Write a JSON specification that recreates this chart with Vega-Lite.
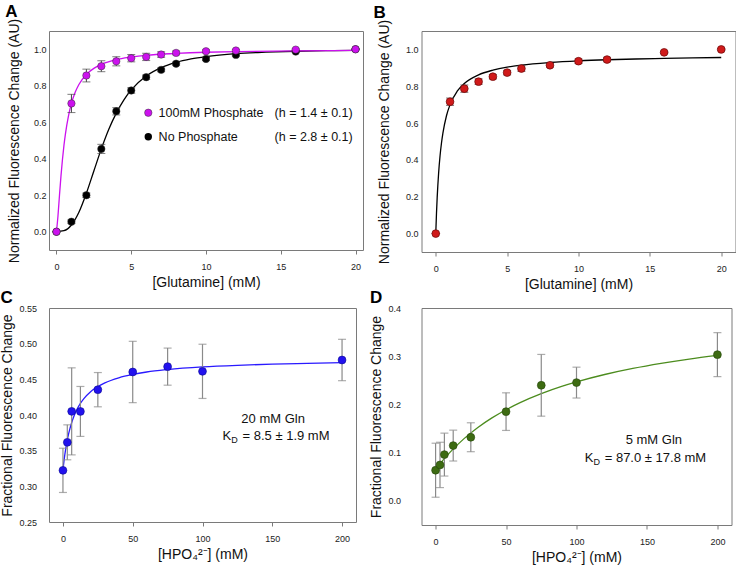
{
  "$schema": "https://vega.github.io/schema/vega-lite/v6.json",
  "padding": {"left": -1, "top": 2, "right": 0, "bottom": 0},
  "columns": 2,
  "bounds": "flush",
  "spacing": {"row": 56, "column": 58.5},
  "datasets": {
    "A_pts": [
      {"series": "No Phosphate", "x": 0, "y": 0, "err": 0},
      {"series": "No Phosphate", "x": 1, "y": 0.055, "err": 0.01},
      {"series": "No Phosphate", "x": 2, "y": 0.2, "err": 0.012},
      {"series": "No Phosphate", "x": 3, "y": 0.454, "err": 0.025},
      {"series": "No Phosphate", "x": 4, "y": 0.66, "err": 0.02},
      {"series": "No Phosphate", "x": 5, "y": 0.774, "err": 0.015},
      {"series": "No Phosphate", "x": 6, "y": 0.847, "err": 0.012},
      {"series": "No Phosphate", "x": 7, "y": 0.887, "err": 0.01},
      {"series": "No Phosphate", "x": 8, "y": 0.921, "err": 0.008},
      {"series": "No Phosphate", "x": 10, "y": 0.947, "err": 0.008},
      {"series": "No Phosphate", "x": 12, "y": 0.969, "err": 0.006},
      {"series": "No Phosphate", "x": 16, "y": 0.987, "err": 0.005},
      {"series": "No Phosphate", "x": 20, "y": 1.0, "err": 0.003},
      {"series": "100mM Phosphate", "x": 0, "y": 0, "err": 0},
      {"series": "100mM Phosphate", "x": 1, "y": 0.703, "err": 0.05},
      {"series": "100mM Phosphate", "x": 2, "y": 0.856, "err": 0.035},
      {"series": "100mM Phosphate", "x": 3, "y": 0.907, "err": 0.03},
      {"series": "100mM Phosphate", "x": 4, "y": 0.934, "err": 0.025},
      {"series": "100mM Phosphate", "x": 5, "y": 0.951, "err": 0.02},
      {"series": "100mM Phosphate", "x": 6, "y": 0.958, "err": 0.02},
      {"series": "100mM Phosphate", "x": 7, "y": 0.971, "err": 0.015},
      {"series": "100mM Phosphate", "x": 8, "y": 0.98, "err": 0.01},
      {"series": "100mM Phosphate", "x": 10, "y": 0.989, "err": 0.008},
      {"series": "100mM Phosphate", "x": 12, "y": 0.993, "err": 0.006},
      {"series": "100mM Phosphate", "x": 16, "y": 0.998, "err": 0.004},
      {"series": "100mM Phosphate", "x": 20, "y": 1.0, "err": 0.003}
    ],
    "A_fit": [
      {"series": "No Phosphate", "x": 0, "y": 0},
      {"series": "No Phosphate", "x": 0.5, "y": 0.0055},
      {"series": "No Phosphate", "x": 1, "y": 0.037},
      {"series": "No Phosphate", "x": 1.5, "y": 0.1067},
      {"series": "No Phosphate", "x": 2, "y": 0.211},
      {"series": "No Phosphate", "x": 2.5, "y": 0.333},
      {"series": "No Phosphate", "x": 3, "y": 0.454},
      {"series": "No Phosphate", "x": 3.5, "y": 0.5615},
      {"series": "No Phosphate", "x": 4, "y": 0.65},
      {"series": "No Phosphate", "x": 4.5, "y": 0.7215},
      {"series": "No Phosphate", "x": 5, "y": 0.777},
      {"series": "No Phosphate", "x": 6, "y": 0.853},
      {"series": "No Phosphate", "x": 7, "y": 0.899},
      {"series": "No Phosphate", "x": 8, "y": 0.928},
      {"series": "No Phosphate", "x": 9, "y": 0.947},
      {"series": "No Phosphate", "x": 10, "y": 0.96},
      {"series": "No Phosphate", "x": 12, "y": 0.976},
      {"series": "No Phosphate", "x": 14, "y": 0.984},
      {"series": "No Phosphate", "x": 16, "y": 0.989},
      {"series": "No Phosphate", "x": 18, "y": 0.992},
      {"series": "No Phosphate", "x": 20, "y": 0.994},
      {"series": "100mM Phosphate", "x": 0, "y": 0},
      {"series": "100mM Phosphate", "x": 0.1, "y": 0.086},
      {"series": "100mM Phosphate", "x": 0.2, "y": 0.199},
      {"series": "100mM Phosphate", "x": 0.3, "y": 0.305},
      {"series": "100mM Phosphate", "x": 0.4, "y": 0.396},
      {"series": "100mM Phosphate", "x": 0.5, "y": 0.473},
      {"series": "100mM Phosphate", "x": 0.6, "y": 0.5365},
      {"series": "100mM Phosphate", "x": 0.8, "y": 0.634},
      {"series": "100mM Phosphate", "x": 1, "y": 0.703},
      {"series": "100mM Phosphate", "x": 1.25, "y": 0.764},
      {"series": "100mM Phosphate", "x": 1.5, "y": 0.807},
      {"series": "100mM Phosphate", "x": 2, "y": 0.862},
      {"series": "100mM Phosphate", "x": 2.5, "y": 0.895},
      {"series": "100mM Phosphate", "x": 3, "y": 0.917},
      {"series": "100mM Phosphate", "x": 4, "y": 0.943},
      {"series": "100mM Phosphate", "x": 5, "y": 0.957},
      {"series": "100mM Phosphate", "x": 6, "y": 0.967},
      {"series": "100mM Phosphate", "x": 8, "y": 0.977},
      {"series": "100mM Phosphate", "x": 10, "y": 0.9835},
      {"series": "100mM Phosphate", "x": 12, "y": 0.987},
      {"series": "100mM Phosphate", "x": 16, "y": 0.9914},
      {"series": "100mM Phosphate", "x": 20, "y": 0.9937}
    ],
    "B_pts": [
      {"x": 0, "y": 0, "err": 0},
      {"x": 1, "y": 0.716, "err": 0.02},
      {"x": 2, "y": 0.787, "err": 0.02},
      {"x": 3, "y": 0.825, "err": 0.015},
      {"x": 4, "y": 0.852, "err": 0.012},
      {"x": 5, "y": 0.874, "err": 0.012},
      {"x": 6, "y": 0.896, "err": 0.015},
      {"x": 8, "y": 0.914, "err": 0.01},
      {"x": 10, "y": 0.936, "err": 0.012},
      {"x": 12, "y": 0.945, "err": 0.012},
      {"x": 16, "y": 0.984, "err": 0.006},
      {"x": 20, "y": 1.0, "err": 0.005}
    ],
    "B_fit": [
      {"x": 0, "y": 0},
      {"x": 0.05, "y": 0.11},
      {"x": 0.1, "y": 0.198},
      {"x": 0.2, "y": 0.329},
      {"x": 0.3, "y": 0.4225},
      {"x": 0.4, "y": 0.492},
      {"x": 0.5, "y": 0.546},
      {"x": 0.75, "y": 0.64},
      {"x": 1, "y": 0.7},
      {"x": 1.5, "y": 0.773},
      {"x": 2, "y": 0.815},
      {"x": 3, "y": 0.862},
      {"x": 4, "y": 0.8875},
      {"x": 5, "y": 0.904},
      {"x": 6, "y": 0.915},
      {"x": 8, "y": 0.929},
      {"x": 10, "y": 0.938},
      {"x": 12, "y": 0.944},
      {"x": 14, "y": 0.948},
      {"x": 16, "y": 0.951},
      {"x": 18, "y": 0.954},
      {"x": 20, "y": 0.956}
    ],
    "C_pts": [
      {"x": 0, "y": 0.3224, "err": 0.031},
      {"x": 3.125, "y": 0.3617, "err": 0.0245},
      {"x": 6.25, "y": 0.4051, "err": 0.061},
      {"x": 12.5, "y": 0.405, "err": 0.035},
      {"x": 25, "y": 0.4355, "err": 0.024},
      {"x": 50, "y": 0.4603, "err": 0.043},
      {"x": 75, "y": 0.4678, "err": 0.026},
      {"x": 100, "y": 0.4612, "err": 0.038},
      {"x": 200, "y": 0.4771, "err": 0.029}
    ],
    "C_fit": [
      {"x": 0, "y": 0.323},
      {"x": 1, "y": 0.3395},
      {"x": 2, "y": 0.3528},
      {"x": 3, "y": 0.3639},
      {"x": 4, "y": 0.3731},
      {"x": 5, "y": 0.381},
      {"x": 6, "y": 0.3878},
      {"x": 8, "y": 0.399},
      {"x": 10, "y": 0.4077},
      {"x": 12.5, "y": 0.4163},
      {"x": 15, "y": 0.423},
      {"x": 20, "y": 0.433},
      {"x": 25, "y": 0.4399},
      {"x": 30, "y": 0.4451},
      {"x": 40, "y": 0.4522},
      {"x": 50, "y": 0.4569},
      {"x": 60, "y": 0.4603},
      {"x": 75, "y": 0.4637},
      {"x": 100, "y": 0.4674},
      {"x": 125, "y": 0.4697},
      {"x": 150, "y": 0.4713},
      {"x": 175, "y": 0.4724},
      {"x": 200, "y": 0.4733}
    ],
    "D_pts": [
      {"x": 0, "y": 0.0636, "err": 0.056},
      {"x": 3.125, "y": 0.0746, "err": 0.047},
      {"x": 6.25, "y": 0.096, "err": 0.0445},
      {"x": 12.5, "y": 0.1147, "err": 0.032},
      {"x": 25, "y": 0.132, "err": 0.03},
      {"x": 50, "y": 0.1851, "err": 0.039},
      {"x": 75, "y": 0.2397, "err": 0.064},
      {"x": 100, "y": 0.2453, "err": 0.032},
      {"x": 200, "y": 0.3033, "err": 0.0456}
    ],
    "D_fit": [
      {"x": 0, "y": 0.065},
      {"x": 5, "y": 0.0835},
      {"x": 10, "y": 0.1001},
      {"x": 20, "y": 0.1286},
      {"x": 30, "y": 0.1522},
      {"x": 40, "y": 0.1721},
      {"x": 50, "y": 0.1891},
      {"x": 60, "y": 0.2038},
      {"x": 75, "y": 0.2224},
      {"x": 90, "y": 0.2379},
      {"x": 100, "y": 0.2468},
      {"x": 120, "y": 0.2621},
      {"x": 140, "y": 0.2747},
      {"x": 160, "y": 0.2852},
      {"x": 180, "y": 0.2942},
      {"x": 200, "y": 0.3019}
    ]
  },
  "concat": [
    {
      "title": {"text": "A", "dx": -2.3},
      "width": 314,
      "height": 219,
      "layer": [
        {"data": {"name": "A_fit"}, "mark": {"type": "line", "strokeWidth": 1.3, "interpolate": "monotone"},
         "encoding": {
           "x": {"field": "x", "type": "quantitative", "scale": {"domain": [-0.5, 20.5], "nice": false, "zero": false}, "axis": {"title": "[Glutamine] (mM)", "values": [0, 5, 10, 15, 20]}},
           "y": {"field": "y", "type": "quantitative", "scale": {"domain": [-0.1, 1.1], "nice": false, "zero": false}, "axis": {"title": "Normalized Fluorescence Change (AU)", "values": [0, 0.2, 0.4, 0.6, 0.8, 1.0], "format": ".1f", "labelPadding": 3, "titlePadding": 12}},
           "color": {"field": "series", "type": "nominal", "scale": {"domain": ["No Phosphate", "100mM Phosphate"], "range": ["#000000", "#CC11EE"]}, "legend": null}}},
        {"data": {"name": "A_pts"}, "mark": {"type": "errorbar", "ticks": {"size": 8}, "color": "#444", "thickness": 1},
         "encoding": {
           "x": {"field": "x", "type": "quantitative", "scale": {"domain": [-0.5, 20.5], "nice": false, "zero": false}, "axis": {"title": "[Glutamine] (mM)", "values": [0, 5, 10, 15, 20]}},
           "y": {"field": "y", "type": "quantitative", "scale": {"domain": [-0.1, 1.1], "nice": false, "zero": false}, "axis": {"title": "Normalized Fluorescence Change (AU)", "values": [0, 0.2, 0.4, 0.6, 0.8, 1.0], "format": ".1f", "labelPadding": 3, "titlePadding": 12}},
           "yError": {"field": "err"}}},
        {"data": {"name": "A_pts"}, "mark": {"type": "circle", "size": 55, "opacity": 1, "stroke": "#333", "strokeWidth": 0.5},
         "encoding": {
           "x": {"field": "x", "type": "quantitative", "scale": {"domain": [-0.5, 20.5], "nice": false, "zero": false}, "axis": {"title": "[Glutamine] (mM)", "values": [0, 5, 10, 15, 20]}},
           "y": {"field": "y", "type": "quantitative", "scale": {"domain": [-0.1, 1.1], "nice": false, "zero": false}, "axis": {"title": "Normalized Fluorescence Change (AU)", "values": [0, 0.2, 0.4, 0.6, 0.8, 1.0], "format": ".1f", "labelPadding": 3, "titlePadding": 12}},
           "color": {"field": "series", "type": "nominal", "scale": {"domain": ["No Phosphate", "100mM Phosphate"], "range": ["#000000", "#CC11EE"]}, "legend": null}}},
        {"data": {"values": [{"label": "100mM Phosphate"}]}, "mark": {"type": "circle", "size": 55, "opacity": 1, "color": "#CC11EE", "stroke": "#333", "strokeWidth": 0.5}, "encoding": {"x": {"datum": 6.14, "type": "quantitative"}, "y": {"datum": 0.652, "type": "quantitative"}}},
        {"data": {"values": [{"label": "No Phosphate"}]}, "mark": {"type": "circle", "size": 55, "opacity": 1, "color": "#000000"}, "encoding": {"x": {"datum": 6.14, "type": "quantitative"}, "y": {"datum": 0.521, "type": "quantitative"}}},
        {"data": {"values": [{"label": "100mM Phosphate"}]}, "mark": {"type": "text", "align": "left", "baseline": "middle", "font": "Liberation Sans", "fontSize": 12.5, "color": "#111"}, "encoding": {"text": {"field": "label"}, "x": {"datum": 6.83, "type": "quantitative"}, "y": {"datum": 0.652, "type": "quantitative"}}},
        {"data": {"values": [{"label": "(h = 1.4 ± 0.1)"}]}, "mark": {"type": "text", "align": "right", "baseline": "middle", "font": "Liberation Sans", "fontSize": 12.5, "color": "#111"}, "encoding": {"text": {"field": "label"}, "x": {"datum": 19.81, "type": "quantitative"}, "y": {"datum": 0.652, "type": "quantitative"}}},
        {"data": {"values": [{"label": "No Phosphate"}]}, "mark": {"type": "text", "align": "left", "baseline": "middle", "font": "Liberation Sans", "fontSize": 12.5, "color": "#111"}, "encoding": {"text": {"field": "label"}, "x": {"datum": 6.83, "type": "quantitative"}, "y": {"datum": 0.521, "type": "quantitative"}}},
        {"data": {"values": [{"label": "(h = 2.8 ± 0.1)"}]}, "mark": {"type": "text", "align": "right", "baseline": "middle", "font": "Liberation Sans", "fontSize": 12.5, "color": "#111"}, "encoding": {"text": {"field": "label"}, "x": {"datum": 19.81, "type": "quantitative"}, "y": {"datum": 0.521, "type": "quantitative"}}}
      ]
    },
    {
      "title": {"text": "B", "dx": -4},
      "width": 314,
      "height": 221,
      "layer": [
        {"data": {"name": "B_fit"}, "mark": {"type": "line", "strokeWidth": 1.3, "interpolate": "monotone", "color": "#000000"},
         "encoding": {
           "x": {"field": "x", "type": "quantitative", "scale": {"domain": [-1, 21], "nice": false, "zero": false}, "axis": {"title": "[Glutamine] (mM)", "values": [0, 5, 10, 15, 20]}},
           "y": {"field": "y", "type": "quantitative", "scale": {"domain": [-0.1, 1.1], "nice": false, "zero": false}, "axis": {"title": "Normalized Fluorescence Change (AU)", "values": [0, 0.2, 0.4, 0.6, 0.8, 1.0], "format": ".1f", "labelPadding": 3.5, "titlePadding": 14}}}},
        {"data": {"name": "B_pts"}, "mark": {"type": "errorbar", "ticks": {"size": 8}, "color": "#444", "thickness": 1},
         "encoding": {
           "x": {"field": "x", "type": "quantitative", "scale": {"domain": [-1, 21], "nice": false, "zero": false}, "axis": {"title": "[Glutamine] (mM)", "values": [0, 5, 10, 15, 20]}},
           "y": {"field": "y", "type": "quantitative", "scale": {"domain": [-0.1, 1.1], "nice": false, "zero": false}, "axis": {"title": "Normalized Fluorescence Change (AU)", "values": [0, 0.2, 0.4, 0.6, 0.8, 1.0], "format": ".1f", "labelPadding": 3.5, "titlePadding": 14}},
           "yError": {"field": "err"}}},
        {"data": {"name": "B_pts"}, "mark": {"type": "circle", "size": 60, "opacity": 1, "color": "#D01A1A", "stroke": "#6a0808", "strokeWidth": 0.7},
         "encoding": {
           "x": {"field": "x", "type": "quantitative", "scale": {"domain": [-1, 21], "nice": false, "zero": false}, "axis": {"title": "[Glutamine] (mM)", "values": [0, 5, 10, 15, 20]}},
           "y": {"field": "y", "type": "quantitative", "scale": {"domain": [-0.1, 1.1], "nice": false, "zero": false}, "axis": {"title": "Normalized Fluorescence Change (AU)", "values": [0, 0.2, 0.4, 0.6, 0.8, 1.0], "format": ".1f", "labelPadding": 3.5, "titlePadding": 14}}}}
      ]
    },
    {
      "title": {"text": "C", "dx": 0},
      "width": 307,
      "height": 214,
      "layer": [
        {"data": {"name": "C_fit"}, "mark": {"type": "line", "strokeWidth": 1.3, "interpolate": "monotone", "color": "#2A1AFF"},
         "encoding": {
           "x": {"field": "x", "type": "quantitative", "scale": {"domain": [-10, 210], "nice": false, "zero": false}, "axis": {"title": "[HPO₄²⁻] (mM)", "values": [0, 50, 100, 150, 200]}},
           "y": {"field": "y", "type": "quantitative", "scale": {"domain": [0.25, 0.55], "nice": false, "zero": false}, "axis": {"title": "Fractional Fluorescence Change", "values": [0.25, 0.3, 0.35, 0.4, 0.45, 0.5, 0.55], "format": ".2f", "labelPadding": 12.5, "titlePadding": 4.5, "labelOverlap": false}}}},
        {"data": {"name": "C_pts"}, "mark": {"type": "errorbar", "ticks": {"size": 8}, "color": "#8a8a8a", "thickness": 1.2},
         "encoding": {
           "x": {"field": "x", "type": "quantitative", "scale": {"domain": [-10, 210], "nice": false, "zero": false}, "axis": {"title": "[HPO₄²⁻] (mM)", "values": [0, 50, 100, 150, 200]}},
           "y": {"field": "y", "type": "quantitative", "scale": {"domain": [0.25, 0.55], "nice": false, "zero": false}, "axis": {"title": "Fractional Fluorescence Change", "values": [0.25, 0.3, 0.35, 0.4, 0.45, 0.5, 0.55], "format": ".2f", "labelPadding": 12.5, "titlePadding": 4.5, "labelOverlap": false}},
           "yError": {"field": "err"}}},
        {"data": {"name": "C_pts"}, "mark": {"type": "circle", "size": 62, "opacity": 1, "color": "#2211EE", "stroke": "#0a0a90", "strokeWidth": 0.6},
         "encoding": {
           "x": {"field": "x", "type": "quantitative", "scale": {"domain": [-10, 210], "nice": false, "zero": false}, "axis": {"title": "[HPO₄²⁻] (mM)", "values": [0, 50, 100, 150, 200]}},
           "y": {"field": "y", "type": "quantitative", "scale": {"domain": [0.25, 0.55], "nice": false, "zero": false}, "axis": {"title": "Fractional Fluorescence Change", "values": [0.25, 0.3, 0.35, 0.4, 0.45, 0.5, 0.55], "format": ".2f", "labelPadding": 12.5, "titlePadding": 4.5, "labelOverlap": false}}}},
        {"data": {"values": [{"label": "20 mM Gln"}]}, "mark": {"type": "text", "align": "center", "baseline": "middle", "font": "Liberation Sans", "fontSize": 13, "color": "#111"},
         "encoding": {"text": {"field": "label"},
           "x": {"datum": 150.6, "type": "quantitative", "scale": {"domain": [-10, 210], "nice": false, "zero": false}, "axis": {"title": "[HPO₄²⁻] (mM)", "values": [0, 50, 100, 150, 200]}},
           "y": {"datum": 0.395, "type": "quantitative", "scale": {"domain": [0.25, 0.55], "nice": false, "zero": false}, "axis": {"title": "Fractional Fluorescence Change", "values": [0.25, 0.3, 0.35, 0.4, 0.45, 0.5, 0.55], "format": ".2f", "labelPadding": 12.5, "titlePadding": 4.5, "labelOverlap": false}}}},
        {"data": {"values": [{"label": "K"}]}, "mark": {"type": "text", "align": "right", "baseline": "middle", "font": "Liberation Sans", "fontSize": 13, "color": "#111"},
         "encoding": {"text": {"field": "label"},
           "x": {"datum": 120.6, "type": "quantitative", "scale": {"domain": [-10, 210], "nice": false, "zero": false}, "axis": {"title": "[HPO₄²⁻] (mM)", "values": [0, 50, 100, 150, 200]}},
           "y": {"datum": 0.37, "type": "quantitative", "scale": {"domain": [0.25, 0.55], "nice": false, "zero": false}, "axis": {"title": "Fractional Fluorescence Change", "values": [0.25, 0.3, 0.35, 0.4, 0.45, 0.5, 0.55], "format": ".2f", "labelPadding": 12.5, "titlePadding": 4.5, "labelOverlap": false}}}},
        {"data": {"values": [{"label": "D"}]}, "mark": {"type": "text", "align": "left", "baseline": "middle", "dy": 4, "font": "Liberation Sans", "fontSize": 9, "color": "#111"},
         "encoding": {"text": {"field": "label"},
           "x": {"datum": 120.6, "type": "quantitative", "scale": {"domain": [-10, 210], "nice": false, "zero": false}, "axis": {"title": "[HPO₄²⁻] (mM)", "values": [0, 50, 100, 150, 200]}},
           "y": {"datum": 0.37, "type": "quantitative", "scale": {"domain": [0.25, 0.55], "nice": false, "zero": false}, "axis": {"title": "Fractional Fluorescence Change", "values": [0.25, 0.3, 0.35, 0.4, 0.45, 0.5, 0.55], "format": ".2f", "labelPadding": 12.5, "titlePadding": 4.5, "labelOverlap": false}}}},
        {"data": {"values": [{"label": "= 8.5 ± 1.9 mM"}]}, "mark": {"type": "text", "align": "left", "baseline": "middle", "dx": 11.3, "font": "Liberation Sans", "fontSize": 13, "color": "#111"},
         "encoding": {"text": {"field": "label"},
           "x": {"datum": 120.6, "type": "quantitative", "scale": {"domain": [-10, 210], "nice": false, "zero": false}, "axis": {"title": "[HPO₄²⁻] (mM)", "values": [0, 50, 100, 150, 200]}},
           "y": {"datum": 0.37, "type": "quantitative", "scale": {"domain": [0.25, 0.55], "nice": false, "zero": false}, "axis": {"title": "Fractional Fluorescence Change", "values": [0.25, 0.3, 0.35, 0.4, 0.45, 0.5, 0.55], "format": ".2f", "labelPadding": 12.5, "titlePadding": 4.5, "labelOverlap": false}}}}
      ]
    },
    {
      "title": {"text": "D", "dx": 0},
      "width": 310,
      "height": 217,
      "layer": [
        {"data": {"name": "D_fit"}, "mark": {"type": "line", "strokeWidth": 1.3, "interpolate": "monotone", "color": "#4C8C1E"},
         "encoding": {
           "x": {"field": "x", "type": "quantitative", "scale": {"domain": [-10, 210], "nice": false, "zero": false}, "axis": {"title": "[HPO₄²⁻] (mM)", "values": [0, 50, 100, 150, 200]}},
           "y": {"field": "y", "type": "quantitative", "scale": {"domain": [-0.05, 0.4], "nice": false, "zero": false}, "axis": {"title": "Fractional Fluorescence Change", "values": [0, 0.1, 0.2, 0.3, 0.4], "format": ".1f", "labelPadding": 21, "titlePadding": 4}}}},
        {"data": {"name": "D_pts"}, "mark": {"type": "errorbar", "ticks": {"size": 8}, "color": "#8a8a8a", "thickness": 1.2},
         "encoding": {
           "x": {"field": "x", "type": "quantitative", "scale": {"domain": [-10, 210], "nice": false, "zero": false}, "axis": {"title": "[HPO₄²⁻] (mM)", "values": [0, 50, 100, 150, 200]}},
           "y": {"field": "y", "type": "quantitative", "scale": {"domain": [-0.05, 0.4], "nice": false, "zero": false}, "axis": {"title": "Fractional Fluorescence Change", "values": [0, 0.1, 0.2, 0.3, 0.4], "format": ".1f", "labelPadding": 21, "titlePadding": 4}},
           "yError": {"field": "err"}}},
        {"data": {"name": "D_pts"}, "mark": {"type": "circle", "size": 62, "opacity": 1, "color": "#3D6B12", "stroke": "#24440a", "strokeWidth": 0.6},
         "encoding": {
           "x": {"field": "x", "type": "quantitative", "scale": {"domain": [-10, 210], "nice": false, "zero": false}, "axis": {"title": "[HPO₄²⁻] (mM)", "values": [0, 50, 100, 150, 200]}},
           "y": {"field": "y", "type": "quantitative", "scale": {"domain": [-0.05, 0.4], "nice": false, "zero": false}, "axis": {"title": "Fractional Fluorescence Change", "values": [0, 0.1, 0.2, 0.3, 0.4], "format": ".1f", "labelPadding": 21, "titlePadding": 4}}}},
        {"data": {"values": [{"label": "5 mM Gln"}]}, "mark": {"type": "text", "align": "center", "baseline": "middle", "font": "Liberation Sans", "fontSize": 13, "color": "#111"}, "encoding": {"text": {"field": "label"}, "x": {"datum": 154.9, "type": "quantitative"}, "y": {"datum": 0.1258, "type": "quantitative"}}},
        {"data": {"values": [{"label": "K"}]}, "mark": {"type": "text", "align": "right", "baseline": "middle", "font": "Liberation Sans", "fontSize": 13, "color": "#111"}, "encoding": {"text": {"field": "label"}, "x": {"datum": 112.0, "type": "quantitative"}, "y": {"datum": 0.0891, "type": "quantitative"}}},
        {"data": {"values": [{"label": "D"}]}, "mark": {"type": "text", "align": "left", "baseline": "middle", "dy": 4, "font": "Liberation Sans", "fontSize": 9, "color": "#111"}, "encoding": {"text": {"field": "label"}, "x": {"datum": 112.0, "type": "quantitative"}, "y": {"datum": 0.0891, "type": "quantitative"}}},
        {"data": {"values": [{"label": "= 87.0 ± 17.8 mM"}]}, "mark": {"type": "text", "align": "left", "baseline": "middle", "dx": 11.3, "font": "Liberation Sans", "fontSize": 13, "color": "#111"}, "encoding": {"text": {"field": "label"}, "x": {"datum": 112.0, "type": "quantitative"}, "y": {"datum": 0.0891, "type": "quantitative"}}}
      ]
    }
  ],
  "config": {
    "view": {"stroke": "#7a7a7a", "strokeWidth": 1},
    "axis": {"domain": false, "grid": false, "ticks": true, "tickSize": 4, "tickColor": "#7a7a7a", "labelFont": "Liberation Sans", "labelFontSize": 9, "labelColor": "#222", "titleFont": "Liberation Sans", "titleFontSize": 14, "titleFontWeight": "normal", "titleColor": "#111", "labelOverlap": false},
    "axisX": {"labelPadding": 8, "titlePadding": 4},
    "axisY": {"ticks": false},
    "title": {"font": "Liberation Sans", "fontSize": 17, "fontWeight": "bold", "anchor": "start", "frame": "bounds", "color": "#000", "offset": -2.5}
  }
}
